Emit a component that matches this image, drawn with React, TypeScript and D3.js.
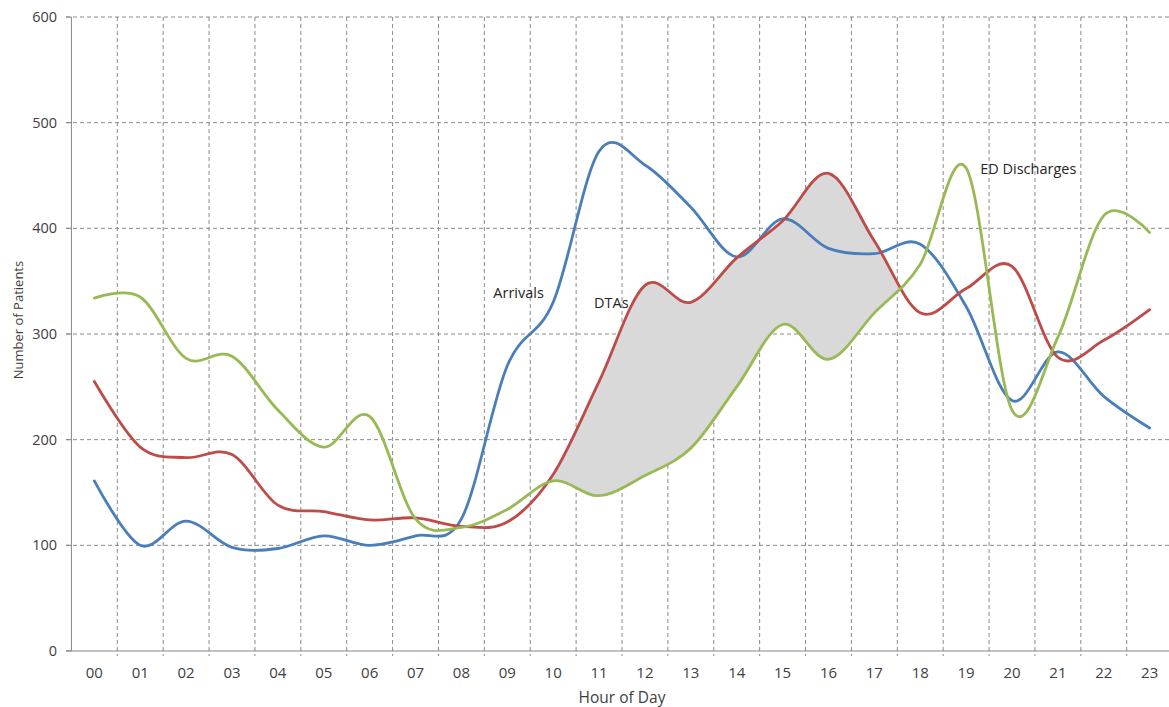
import React from "react";
import * as d3 from "d3";

const hours = ["00","01","02","03","04","05","06","07","08","09","10","11","12","13","14","15","16","17","18","19","20","21","22","23"];
const arrivals = [161,100,123,98,97,109,100,109,125,270,330,473,460,420,373,409,381,376,385,326,237,283,241,211];
const dtas = [255,193,183,186,138,132,124,126,118,122,167,255,346,330,372,407,452,388,320,343,364,278,294,323];
const discharges = [334,335,277,279,228,193,222,125,117,134,161,147,166,192,250,309,276,320,366,457,228,297,412,396];
const yTicks = [0,100,200,300,400,500,600];

const W = 1169, H = 707;
const left = 71.4, right = 1172.6, top = 17, bottom = 651;

export default function App() {
  const x = d3.scaleBand<string>().domain(hours).range([left, right]).padding(0);
  const xc = (h: string) => (x(h) as number) + x.bandwidth() / 2;
  const y = d3.scaleLinear().domain([0, 600]).range([bottom, top]);
  const curve = d3.curveCardinal.tension(0);

  const line = (vals: number[]) =>
    d3.line<number>().x((_, i) => xc(hours[i])).y(v => y(v)).curve(curve)(vals) as string;
  const underRed = d3.area<number>().x((_, i) => xc(hours[i])).y0(bottom).y1(v => y(v)).curve(curve)(dtas) as string;
  const aboveGreen = d3.area<number>().x((_, i) => xc(hours[i])).y0(top).y1(v => y(v)).curve(curve)(discharges) as string;

  const fillX0 = xc("09"), fillX1 = xc("19");
  const boundaries = hours.map(h => x(h) as number).slice(1).concat([right]);
  const grid = "#8a8a8a";
  const tickFont = "'Open Sans', sans-serif";

  return (
    <svg width={W} height={H} style={{ position: "absolute", left: 0, top: 0, background: "#fff" }}>
      <defs>
        <clipPath id="rangeClip"><rect x={fillX0} y={top} width={fillX1 - fillX0} height={bottom - top} /></clipPath>
        <clipPath id="redClip"><path d={underRed} /></clipPath>
      </defs>
      {yTicks.filter(t => t > 0).map(t => (
        <line key={"h" + t} x1={66} x2={W} y1={y(t)} y2={y(t)} stroke={grid} strokeWidth={1} strokeDasharray="4,3" />
      ))}
      {boundaries.map((bx, i) => (
        <line key={"v" + i} x1={bx} x2={bx} y1={top} y2={bottom + 5} stroke={grid} strokeWidth={1} strokeDasharray="4,3" />
      ))}
      <g clipPath="url(#rangeClip)">
        <g clipPath="url(#redClip)">
          <path d={aboveGreen} fill="#d9d9d9" />
        </g>
      </g>
      <line x1={left} x2={left} y1={top} y2={bottom} stroke="#868686" strokeWidth={1} />
      <line x1={66} x2={W} y1={bottom} y2={bottom} stroke="#868686" strokeWidth={1} />
      {yTicks.map(t => (
        <g key={"yt" + t}>
          <line x1={66} x2={left} y1={y(t)} y2={y(t)} stroke="#868686" strokeWidth={1} />
          <text x={57} y={y(t)} dy="0.35em" textAnchor="end" fontFamily={tickFont} fontSize={14.5} fill="#404040">{t}</text>
        </g>
      ))}
      {hours.map(h => (
        <text key={"xt" + h} x={xc(h)} y={678} textAnchor="middle" fontFamily={tickFont} fontSize={15} fill="#404040">{h}</text>
      ))}
      <text x={(left + right) / 2} y={703} textAnchor="middle" fontFamily={tickFont} fontSize={15.5} fill="#404040">Hour of Day</text>
      <text transform={`translate(23, ${(265 + 375) / 2}) rotate(-90)`} textAnchor="middle" fontFamily={tickFont} fontSize={13} fill="#404040">Number of Patients</text>
      <path d={line(arrivals)} fill="none" stroke="#4a7ebb" strokeWidth={2.8} strokeLinejoin="round" strokeLinecap="round" />
      <path d={line(dtas)} fill="none" stroke="#be4b48" strokeWidth={2.8} strokeLinejoin="round" strokeLinecap="round" />
      <path d={line(discharges)} fill="none" stroke="#98b954" strokeWidth={2.8} strokeLinejoin="round" strokeLinecap="round" />
      <text x={xc("09") - 14} y={y(334)} fontFamily={tickFont} fontSize={14.5} fill="#262626">Arrivals</text>
      <text x={xc("11") - 5} y={y(325)} fontFamily={tickFont} fontSize={14.5} fill="#262626">DTAs</text>
      <text x={xc("19") + 14} y={y(451)} fontFamily={tickFont} fontSize={14.5} fill="#262626">ED Discharges</text>
    </svg>
  );
}
